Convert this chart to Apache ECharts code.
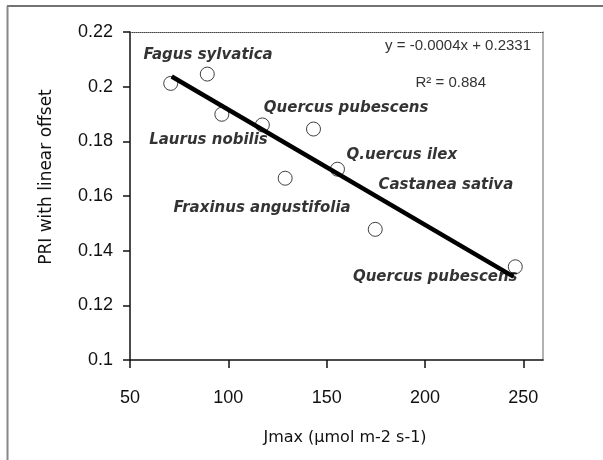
<!DOCTYPE html>
<html><head><meta charset="utf-8">
<script src="https://cdn.jsdelivr.net/npm/echarts@6/dist/echarts.min.js"></script>
<style>html,body{margin:0;padding:0;background:#fff}#c{width:603px;height:460px}</style>
</head><body><div id="c"></div>
<script>
// Observed points
const jmax = [70.7, 89.3, 96.7, 117.3, 128.9, 143.3, 155.5, 174.7, 245.9];
const pri  = [0.2012, 0.2046, 0.1899, 0.1860, 0.1665, 0.1845, 0.1698, 0.1478, 0.1341];
// Trend line end points (as drawn)
const trendX = [71.2, 245.0];
const trendY = [0.2037, 0.1305];
// Axis ticks
const xTicks = [50, 100, 150, 200, 250];
const yTicks = [0.1, 0.12, 0.14, 0.16, 0.18, 0.2, 0.22];
// Species annotations
const speciesNames = ['Fagus sylvatica', 'Quercus pubescens', 'Laurus nobilis', 'Q.uercus ilex',
                      'Castanea sativa', 'Fraxinus angustifolia', 'Quercus pubescens'];
const speciesAnchorX = [89.7, 159.9, 89.9, 188.2, 210.6, 117.2, 205.2];
const speciesAnchorY = [0.2116, 0.1922, 0.1805, 0.1750, 0.1640, 0.1556, 0.1304];
const equationText = 'y = -0.0004x + 0.2331';
const r2Text = 'R\u00B2 = 0.884';
const xTitle = 'Jmax (\u00B5mol m-2 s-1)';
const yTitle = 'PRI with linear offset';

const chart = echarts.init(document.getElementById('c'), null, {renderer: 'canvas'});
const tickFont = {fontSize: 18, fontFamily: 'Liberation Sans', color: '#111'};
chart.setOption({
  animation: false,
  backgroundColor: '#fff',
  grid: {left: 130, top: 32, right: 60, bottom: 100},
  xAxis: [{
    type: 'value', min: 50, max: 260, interval: 50,
    axisLine: {show: true, lineStyle: {color: '#111', width: 1.5}},
    axisTick: {show: true, length: 8, customValues: xTicks, lineStyle: {color: '#111', width: 1.5}},
    axisLabel: Object.assign({margin: 29, customValues: xTicks}, tickFont),
    splitLine: {show: false}
  }, {
    type: 'value', position: 'top', min: 50, max: 260,
    axisLine: {show: true, lineStyle: {color: '#444', type: 'dotted', width: 1}},
    axisTick: {show: false}, axisLabel: {show: false}, splitLine: {show: false}
  }],
  yAxis: [{
    type: 'value', min: 0.1, max: 0.22, interval: 0.02,
    axisLine: {show: true, lineStyle: {color: '#111', width: 1.5}},
    axisTick: {show: true, length: 7, lineStyle: {color: '#111', width: 1.5}},
    axisLabel: Object.assign({margin: 17, formatter: v => String(+v.toFixed(2))}, tickFont),
    splitLine: {show: false}
  }, {
    type: 'value', position: 'right', min: 0.1, max: 0.22,
    axisLine: {show: true, lineStyle: {color: '#999', width: 1.5}},
    axisTick: {show: false}, axisLabel: {show: false}, splitLine: {show: false}
  }],
  series: [{
    type: 'scatter', z: 2,
    data: jmax.map((x, i) => [x, pri[i]]),
    symbol: 'circle', symbolSize: 14,
    itemStyle: {color: '#fff', borderColor: '#111', borderWidth: 1}
  }, {
    type: 'line', z: 3,
    data: trendX.map((x, i) => [x, trendY[i]]),
    symbol: 'none',
    lineStyle: {color: '#000', width: 4.5}
  }, {
    type: 'scatter', z: 4,
    data: speciesNames.map((n, i) => ({name: n, value: [speciesAnchorX[i], speciesAnchorY[i]]})),
    symbolSize: 1,
    itemStyle: {color: 'rgba(0,0,0,0)'},
    label: {
      show: true, position: 'inside', formatter: p => p.name,
      fontFamily: 'DejaVu Sans', fontStyle: 'italic', fontWeight: 'bold', fontSize: 15, color: '#000'
    }
  }],
  graphic: [
    {type: 'line', shape: {x1: 7, y1: 6, x2: 603, y2: 6}, style: {stroke: '#444', lineWidth: 1.5}},
    {type: 'line', shape: {x1: 7.5, y1: 6, x2: 7.5, y2: 460}, style: {stroke: '#888', lineWidth: 2}},
    {type: 'text', x: 531, y: 46, style: {text: equationText, font: '15px "Liberation Sans"', fill: '#333', align: 'right', verticalAlign: 'middle'}},
    {type: 'text', x: 486, y: 83, style: {text: r2Text, font: '15px "Liberation Sans"', fill: '#333', align: 'right', verticalAlign: 'middle'}},
    {type: 'text', x: 345, y: 438, style: {text: xTitle, font: '16px "DejaVu Sans"', fill: '#111', align: 'center', verticalAlign: 'middle'}},
    {type: 'text', x: 47, y: 177, rotation: Math.PI / 2, style: {text: yTitle, font: '17px "DejaVu Sans"', fill: '#111', align: 'center', verticalAlign: 'middle'}}
  ]
});
</script>
</body></html>
